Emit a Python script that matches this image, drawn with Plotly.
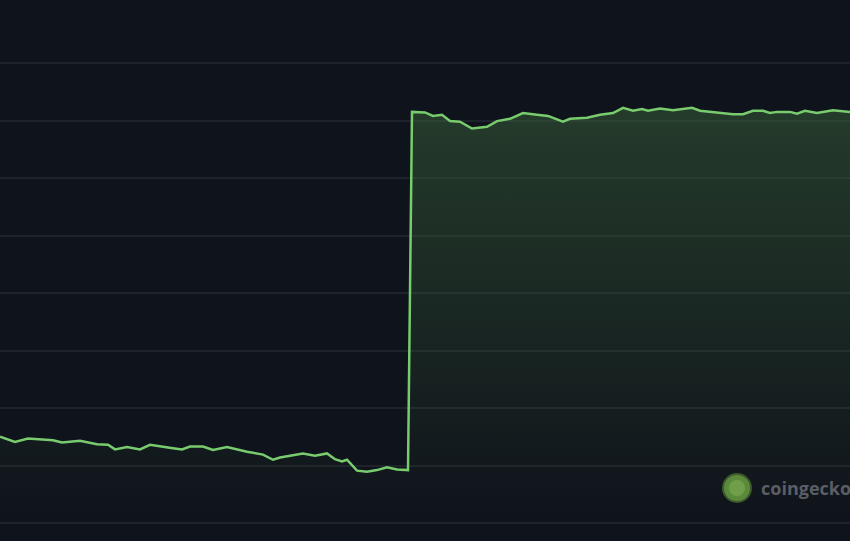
import plotly.graph_objects as go

# time steps (arbitrary units across the visible window)
t = [0, 15, 28, 53, 62, 80, 97, 108, 115, 127, 140, 150, 173, 182, 190, 203, 213, 227,
     247, 257, 263, 273, 280, 290, 303, 315, 327, 335, 342, 347, 357, 367, 377, 387, 397, 408,
     412, 425, 433, 442, 450, 460, 472, 487, 497, 510, 523, 537, 548, 563, 570, 587, 600,
     613, 623, 633, 642, 648, 660, 673, 692, 700, 717, 733, 743, 753, 763, 770, 777, 790,
     797, 805, 817, 833, 850]
price = [1.50, 1.41, 1.47, 1.44, 1.40, 1.43, 1.37, 1.36, 1.28, 1.32, 1.28, 1.36, 1.30, 1.28,
         1.33, 1.33, 1.27, 1.32, 1.24, 1.21, 1.19, 1.10, 1.14, 1.17, 1.21, 1.17, 1.21, 1.11,
         1.07, 1.10, 0.91, 0.89, 0.92, 0.97, 0.93, 0.92,
         7.15, 7.14, 7.08, 7.10, 6.99, 6.98, 6.86, 6.89, 6.99, 7.03, 7.13, 7.10, 7.08, 6.98,
         7.03, 7.05, 7.10, 7.13, 7.22, 7.17, 7.20, 7.17, 7.21, 7.18, 7.22, 7.17, 7.14, 7.11,
         7.11, 7.17, 7.17, 7.13, 7.15, 7.15, 7.12, 7.17, 7.13, 7.18, 7.15]
grid_vals = [0, 1, 2, 3, 4, 5, 6, 7, 8]

BG = "#0f131b"
W, H = 850, 541

fig = go.Figure()
fig.add_trace(go.Scatter(
    x=t, y=price, mode="lines",
    line=dict(color="#79cc6e", width=2.5),
    fill="tozeroy",
    fillgradient=dict(type="vertical", start=0, stop=7.2,
                      colorscale=[[0, "rgba(66,114,63,0)"], [1, "rgba(66,114,63,0.42)"]]),
    hoverinfo="skip", showlegend=False,
))

fig.update_layout(
    width=W, height=H,
    margin=dict(l=0, r=0, t=0, b=0),
    paper_bgcolor=BG, plot_bgcolor=BG,
    xaxis=dict(range=[0, 850], showgrid=False, zeroline=False, showticklabels=False,
               showline=False, fixedrange=True),
    yaxis=dict(range=[-0.313, 9.096], tickvals=grid_vals, showticklabels=False,
               gridcolor="#1e222b", gridwidth=1.5, zeroline=False, showline=False),
    showlegend=False,
)

# watermark logo + text
cx, cy, r = 737, 488, 14
fig.add_shape(type="circle", xref="paper", yref="paper",
              x0=(cx - r) / W, x1=(cx + r) / W, y0=1 - (cy + r) / H, y1=1 - (cy - r) / H,
              fillcolor="#5c8a3c", line=dict(color="#3d5a2b", width=2), layer="above")
fig.add_shape(type="circle", xref="paper", yref="paper",
              x0=(cx - 8) / W, x1=(cx + 8) / W, y0=1 - (cy + 8) / H, y1=1 - (cy - 8) / H,
              fillcolor="#6f9f48", line=dict(width=0), layer="above")
fig.add_annotation(text="<b>coingecko</b>", xref="paper", yref="paper",
                   x=759 / W, y=1 - 488 / H, xanchor="left", yanchor="middle",
                   showarrow=False, font=dict(family="Open Sans", size=18, color="#5a5e66"))

fig.write_html("out.html",
               config={"displayModeBar": False},
               post_script="document.body.style.margin='0';"
                           "document.body.style.background='#0f131b';")
